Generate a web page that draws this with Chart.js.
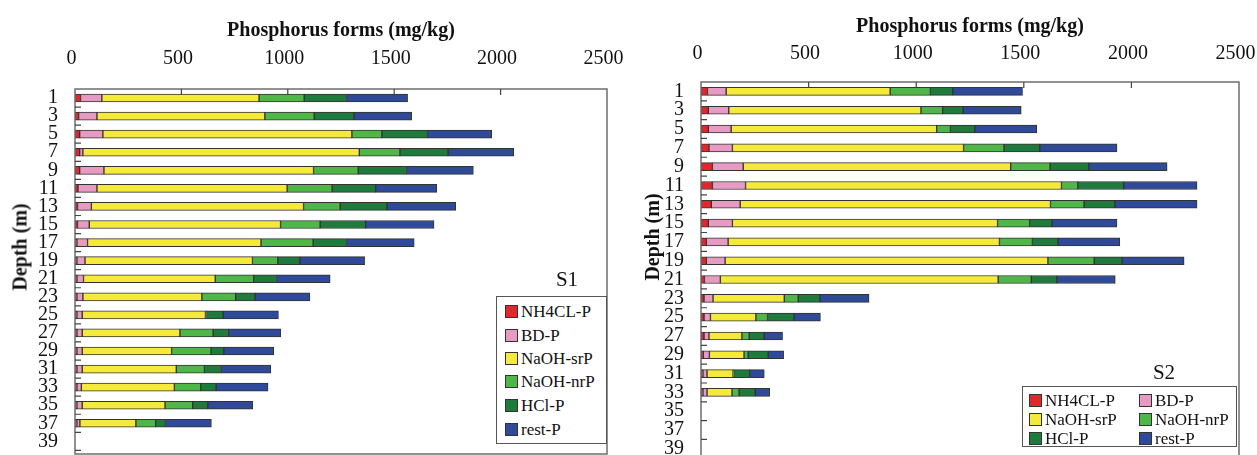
<!DOCTYPE html>
<html>
<head>
<meta charset="utf-8">
<script src="https://cdn.jsdelivr.net/npm/chart.js@4.4.1/dist/chart.umd.min.js"></script>
<style>
  html, body { margin: 0; padding: 0; background: #fff; }
  #page { position: relative; width: 1257px; height: 455px; overflow: hidden; font-family: "Liberation Serif", "Times New Roman", serif; color: #111; }
  #box1 { position: absolute; left: 0; top: 0; width: 628px; height: 455px; }
  #box2 { position: absolute; left: 628px; top: 0; width: 629px; height: 470px; }
  .ytitle { position: absolute; font-weight: bold; font-size: 20px; white-space: nowrap; transform: translate(-50%, -50%) rotate(-90deg); }
  .site { position: absolute; font-size: 21px; transform: translate(-50%, -50%); }
  .legend { position: absolute; border: 1px solid #555; background: #fff; box-sizing: border-box; }
  .legend .item { position: absolute; font-size: 17px; line-height: 17px; white-space: nowrap; }
  .legend .sw { display: inline-block; width: 11px; height: 11px; border: 1px solid #333; margin-right: 3px; vertical-align: -1px; }
</style>
</head>
<body>
<div id="page">
  <div id="box1"><canvas id="chartS1" width="628" height="455"></canvas></div>
  <div id="box2"><canvas id="chartS2" width="629" height="470"></canvas></div>
  <div class="ytitle" style="left:20px; top:247px;">Depth (m)</div>
  <div class="ytitle" style="left:652px; top:237px;">Depth (m)</div>
  <div class="site" style="left:567px; top:279px;">S1</div>
  <div class="site" style="left:1164px; top:372px;">S2</div>
  <div class="legend" id="leg1" style="left:496px; top:296px; width:111px; height:148px;"></div>
  <div class="legend" id="leg2" style="left:1022px; top:386px; width:215px; height:61px;"></div>
</div>

<script>
const FONT = '"Liberation Serif", "Times New Roman", serif';

// series names + colours
const seriesNames = ['NH4CL-P', 'BD-P', 'NaOH-srP', 'NaOH-nrP', 'HCl-P', 'rest-P'];
const seriesColors = ['#e2272c', '#e89bc2', '#f5ea3a', '#4fb748', '#1f7b3b', '#2e4a99'];

const xTicks = [0, 500, 1000, 1500, 2000, 2500];

// S1 (mg/kg), depth in m
const depthsS1 = [1, 3, 5, 7, 9, 11, 13, 15, 17, 19, 21, 23, 25, 27, 29, 31, 33, 35, 37];
const nh4S1  = [26, 17, 22, 22, 22, 14, 12, 12, 9, 9, 9, 9, 9, 9, 9, 9, 9, 9, 9];
const bdS1   = [100, 86, 109, 15, 114, 89, 65, 55, 50, 38, 31, 28, 25, 25, 25, 25, 21, 25, 14];
const srS1   = [739, 789, 1170, 1299, 985, 894, 997, 899, 815, 787, 619, 559, 579, 459, 420, 442, 437, 389, 263];
const nrS1   = [212, 232, 141, 191, 210, 211, 172, 186, 245, 119, 181, 159, 5, 156, 185, 132, 124, 130, 93];
const hclS1  = [199, 187, 215, 226, 227, 205, 220, 214, 157, 104, 107, 91, 78, 73, 60, 80, 72, 71, 46];
const restS1 = [287, 271, 301, 309, 314, 287, 323, 321, 318, 304, 252, 258, 260, 245, 235, 232, 244, 211, 216];

// S2
const depthsS2 = [1, 3, 5, 7, 9, 11, 13, 15, 17, 19, 21, 23, 25, 27, 29, 31, 33];
const nh4S2  = [30, 34, 34, 37, 53, 53, 48, 34, 25, 25, 16, 14, 14, 14, 11, 9, 9];
const bdS2   = [87, 95, 106, 109, 143, 154, 134, 112, 101, 87, 74, 42, 30, 23, 28, 19, 19];
const srS2   = [762, 893, 955, 1074, 1243, 1468, 1442, 1232, 1261, 1500, 1291, 331, 211, 153, 161, 121, 116];
const nrS2   = [187, 101, 64, 188, 183, 76, 156, 149, 153, 215, 154, 65, 54, 34, 19, 3, 33];
const hclS2  = [104, 95, 113, 166, 180, 213, 143, 104, 119, 129, 119, 101, 123, 70, 93, 74, 75];
const restS2 = [324, 270, 288, 359, 364, 341, 382, 302, 287, 289, 271, 228, 123, 85, 72, 68, 67];

// frame + little inward ticks, like the original figure
const framePlugin = {
  id: 'frame',
  afterDraw(chart) {
    const ctx = chart.ctx;
    const a = chart.chartArea;
    const xs = chart.scales.x, ys = chart.scales.y;
    ctx.save();
    ctx.strokeStyle = '#6e6e6e';
    ctx.lineWidth = 1.5;
    ctx.strokeRect(a.left, a.top, a.right - a.left, a.bottom - a.top);
    ctx.lineWidth = 1.2;
    ctx.strokeStyle = '#444';
    ctx.beginPath();
    xTicks.slice(1, -1).forEach(function (v) {
      const px = xs.getPixelForValue(v);
      ctx.moveTo(px, a.top);
      ctx.lineTo(px, a.top + 6);
    });
    for (let d = 2; d <= 40; d += 2) {
      const py = ys.getPixelForValue(d);
      ctx.moveTo(a.left, py);
      ctx.lineTo(a.left + 6, py);
    }
    ctx.stroke();
    ctx.restore();
  }
};

function makeChart(id, depths, series, o) {
  const datasets = series.map(function (vals, i) {
    return {
      label: seriesNames[i],
      data: vals.map(function (v, j) { return { x: v, y: depths[j] }; }),
      backgroundColor: seriesColors[i],
      borderColor: '#333',
      borderWidth: 1,
      borderSkipped: false,
      barThickness: 8
    };
  });

  return new Chart(document.getElementById(id), {
    type: 'bar',
    data: { datasets: datasets },
    options: {
      indexAxis: 'y',
      responsive: false,
      animation: false,
      devicePixelRatio: 1,
      layout: { padding: { left: 0, right: o.padRight, top: 0, bottom: o.padBottom } },
      plugins: { legend: { display: false }, tooltip: { enabled: false } },
      scales: {
        x: {
          type: 'linear',
          position: 'top',
          stacked: true,
          min: 0, max: 2500,
          afterBuildTicks: function (s) { s.ticks = xTicks.map(function (v) { return { value: v }; }); },
          // tickLength only used to push the labels off the frame
          grid: { display: false, drawTicks: true, tickLength: o.xGap },
          border: { display: false },
          ticks: {
            color: '#111', padding: 0, labelOffset: -3.5,
            font: { family: FONT, size: 20 },
            callback: function (v) { return String(v); }
          },
          title: {
            display: true,
            text: 'Phosphorus forms (mg/kg)',
            color: '#111',
            padding: { top: o.titlePad, bottom: 0 },
            font: { family: FONT, size: 20, weight: 'bold' }
          },
          afterFit: function (s) { s.height = o.top; s.paddingLeft = 0; s.paddingRight = 0; }
        },
        y: {
          type: 'linear',
          stacked: true,
          reverse: true,
          offset: false,
          min: 0, max: 40.4,
          grid: { display: false, drawTicks: true, tickLength: 17 },
          border: { display: false },
          ticks: {
            stepSize: 1,
            autoSkip: false,
            color: '#111',
            padding: 0,
            font: { family: FONT, size: 20 },
            callback: function (v) { return (Number.isInteger(v) && v % 2 === 1) ? String(v) : null; }
          },
          afterFit: function (s) { s.width = o.left; s.paddingTop = 0; s.paddingBottom = 0; }
        }
      }
    },
    plugins: [framePlugin]
  });
}

function buildLegend(id, cols, rowTops, colLefts) {
  const el = document.getElementById(id);
  seriesNames.forEach(function (name, i) {
    const r = Math.floor(i / cols), c = i % cols;
    const it = document.createElement('div');
    it.className = 'item';
    it.style.top = rowTops[r] + 'px';
    it.style.left = colLefts[c] + 'px';
    it.innerHTML = '<span class="sw" style="background:' + seriesColors[i] + '"></span>' + name;
    el.appendChild(it);
  });
}

function drawAll() {
  makeChart('chartS1', depthsS1, [nh4S1, bdS1, srS1, nrS1, hclS1, restS1],
    { left: 75, top: 89, padRight: 21, padBottom: 1, xGap: 18, titlePad: 19 });
  makeChart('chartS2', depthsS2, [nh4S2, bdS2, srS2, nrS2, hclS2, restS2],
    { left: 73, top: 82, padRight: 18, padBottom: 8, xGap: 16, titlePad: 15 });
  buildLegend('leg1', 1, [6, 30, 53, 76, 100, 124], [8]);
  buildLegend('leg2', 2, [5, 24, 43], [6, 116]);
}

// wait for the serif font so canvas text does not fall back
Promise.all([
  document.fonts.load('20px "Liberation Serif"'),
  document.fonts.load('bold 20px "Liberation Serif"')
]).then(drawAll, drawAll);
</script>
</body>
</html>
